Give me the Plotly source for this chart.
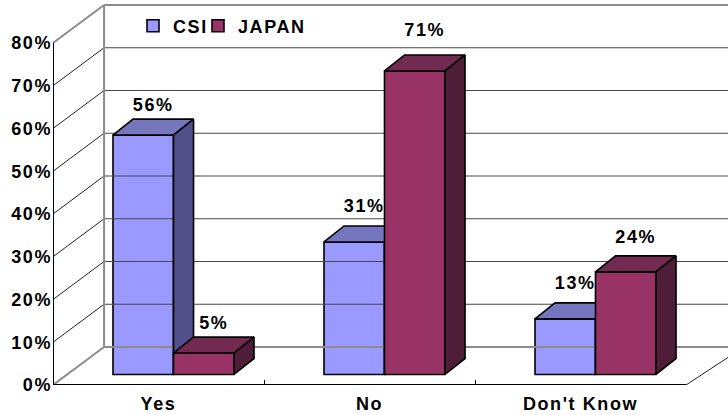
import plotly.graph_objects as go

CATEGORIES = ["Yes", "No", "Don't Know"]
CSI = [56, 31, 13]
JAPAN = [5, 71, 24]
Y_TICKS = [0, 10, 20, 30, 40, 50, 60, 70, 80]

# chart geometry, in axis units
XR = [-0.5, 2.699]
YR = [0, 90.06]
WALL_DX, WALL_DY = 0.242, 8.89
BAR_DX, BAR_DY = 0.095, 3.74
FLOOR = 2.46
SHIFT = 0.071
W = 0.2867
CSI_LIFT = [3.0, 4.3, 4.2]
JAPAN_LIFT = [3.0, 5.6, 4.0]
FONT = "Liberation Sans"
GREY = "#8c8c8c"
GRID = "#484848"

fig = go.Figure()


def line(xs, ys, color, width):
    fig.add_trace(go.Scatter(x=xs, y=ys, mode="lines", line=dict(color=color, width=width),
                             hoverinfo="skip", showlegend=False))


# walls and gridlines
x0, x1 = XR
xe = 2.5
for t in Y_TICKS[1:-1]:
    line([x0, x0 + WALL_DX], [t, t + WALL_DY], "#222222", 1)
    line([x0 + WALL_DX, XR[1]], [t + WALL_DY] * 2, GRID, 1.1)
top = Y_TICKS[-1]
line([x0, x0 + WALL_DX], [top, top + WALL_DY], GREY, 2)
line([x0 + WALL_DX, XR[1]], [top + WALL_DY] * 2, GREY, 2)
line([x0 + WALL_DX, x0 + WALL_DX], [WALL_DY, top + WALL_DY], GREY, 2)
line([x0 + WALL_DX, XR[1]], [WALL_DY, WALL_DY], GREY, 2)
line([x0, x0 + WALL_DX], [0, WALL_DY], GREY, 2)
line([xe, xe + WALL_DX * 0.85], [0, WALL_DY * 0.75], "#222222", 1)
line([x0, xe], [0, 0], "black", 2)
line([x0, x0], [0, top], "black", 2)


def faces(values, left, name, front, topc, side, xa, ya, lifts):
    fig.add_trace(go.Bar(x=[i + left for i in range(3)], y=values, base=FLOOR, width=W, offset=0,
                         name=name, marker=dict(color=front, line=dict(color="black", width=1.6)),
                         xaxis=xa, yaxis=ya, legend="legend" if name == "CSI" else "legend2"))
    for i, v in enumerate(values):
        a = i + left
        b = a + W
        t = v + FLOOR
        for px, py, c in (
            ([a, b, b + BAR_DX, a + BAR_DX, a], [t, t, t + BAR_DY, t + BAR_DY, t], topc),
            ([b, b + BAR_DX, b + BAR_DX, b, b], [t, t + BAR_DY, FLOOR + BAR_DY, FLOOR, t], side),
        ):
            fig.add_trace(go.Scatter(x=px, y=py, mode="lines", fill="toself", fillcolor=c,
                                     line=dict(color="black", width=1.6), hoverinfo="skip",
                                     showlegend=False, xaxis=xa, yaxis=ya))
    fig.add_trace(go.Scatter(
        x=[i + left + W / 2 + BAR_DX / 2 for i in range(3)],
        y=[v + FLOOR + BAR_DY + l for v, l in zip(values, lifts)],
        text=[f"{v}%" for v in values], mode="text", textposition="middle center",
        textfont=dict(family=FONT, size=18, color="black", weight="bold"),
        hoverinfo="skip", showlegend=False, xaxis=xa, yaxis=ya))


faces(CSI, SHIFT - W, "CSI", "#9999FF", "#7676BE", "#50508A", "x", "y", CSI_LIFT)
faces(JAPAN, SHIFT, "JAPAN", "#993366", "#732A50", "#4E1E38", "x2", "y2", JAPAN_LIFT)

font = dict(family=FONT, size=18, color="black", weight="bold")
legend_common = dict(orientation="h", font=font, bgcolor="rgba(0,0,0,0)", xanchor="left", yanchor="middle",
                     itemwidth=30, y=(415 - 26 - 30) / 385, yref="paper",
                     entrywidth=110, entrywidthmode="pixels")
fig.update_layout(
    width=728, height=415, margin=dict(l=53, r=0, t=0, b=30),
    paper_bgcolor="white", plot_bgcolor="white", showlegend=True,
    legend=dict(x=(133 - 53) / 675, **legend_common),
    legend2=dict(x=(198 - 53) / 675, **legend_common),
    xaxis=dict(range=XR, tickvals=[0, 1, 2], ticktext=CATEGORIES, showgrid=False, zeroline=False,
               showline=False, ticks="", tickfont=font, ticklabelstandoff=6,
               minor=dict(tickvals=[0.5, 1.5], ticks="inside", ticklen=5, tickcolor="black", tickwidth=1, showgrid=False)),
    yaxis=dict(range=YR, tickvals=Y_TICKS, ticktext=[f"{t}%" for t in Y_TICKS], showgrid=False,
               zeroline=False, showline=False, ticks="", tickfont=font),
    xaxis2=dict(range=XR, overlaying="x", visible=False),
    yaxis2=dict(range=YR, overlaying="y", visible=False),
)
fig.write_html(
    "out.html",
    config={"displayModeBar": False},
    post_script="document.body.style.margin='0';"
                "document.head.insertAdjacentHTML('beforeend','<style>svg text{letter-spacing:1.6px}</style>');",
)
